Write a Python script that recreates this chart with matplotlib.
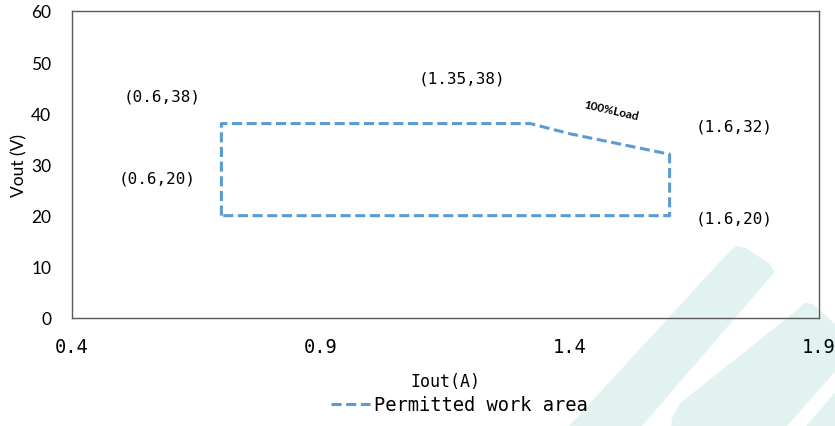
import matplotlib
matplotlib.use("Agg")
import matplotlib.pyplot as plt
from matplotlib.patches import Polygon

# ---- data ----
iout = [0.7, 0.7, 1.32, 1.4, 1.5, 1.6, 1.6, 0.7]
vout = [20, 38, 38, 36, 34, 32, 20, 20]
x_ticks = [0.4, 0.9, 1.4, 1.9]
x_tick_labels = ["0.4", "0.9", "1.4", "1.9"]
y_ticks = [0, 10, 20, 30, 40, 50, 60]
point_labels = ["(0.6,38)", "(0.6,20)", "(1.35,38)", "(1.6,32)", "(1.6,20)"]
point_label_x = [0.581, 0.571, 1.184, 1.729, 1.729]
point_label_y = [43.4, 27.4, 46.9, 37.5, 19.5]
series_name = "Permitted work area"

W, H = 835, 427
fig = plt.figure(figsize=(W / 100, H / 100), dpi=100)
fig.patch.set_facecolor("white")

# watermark (decoration), pixel coordinates converted to figure fraction
wm_color = "#e2f2f1"
wm_shapes = [
    [(729, 256), (737, 249), (745, 251), (768, 266), (772, 273), (628, 440), (560, 440)],
    [(798, 313), (805, 306), (812, 307), (845, 337), (845, 358), (773, 440), (672, 440),
     (674, 420), (682, 405), (700, 391)],
    [(838, 393), (845, 386), (845, 440), (798, 440)],
]
for shp in wm_shapes:
    pts = [(x / W, (H - y) / H) for x, y in shp]
    fig.add_artist(Polygon(pts, closed=True, facecolor=wm_color, edgecolor=wm_color,
                           lw=3, joinstyle="round", transform=fig.transFigure, zorder=0))

ax = fig.add_axes([72 / W, (H - 319) / H, (819 - 72) / W, (319 - 12) / H])
ax.set_facecolor("none")
ax.set_zorder(1)

mono = "DejaVu Sans Mono"
ax.plot(iout, vout, color="#5B9BD5", lw=2.2, dashes=(3.3, 1.5), label=series_name)

ax.set_xlim(0.4, 1.9)
ax.set_ylim(0, 60)
ax.set_xticks(x_ticks)
ax.set_xticklabels(x_tick_labels, fontfamily=mono, fontsize=13.5)
ax.set_yticks(y_ticks)
ax.set_yticklabels([str(v) for v in y_ticks], fontfamily="Lato", fontsize=12.5)
ax.tick_params(axis="x", length=0, pad=14)
ax.tick_params(axis="y", length=0, pad=15)
for s in ax.spines.values():
    s.set_color("#595959")
    s.set_linewidth(1.0)

ax.set_xlabel("Iout(A)", fontfamily=mono, fontsize=12, va="center")
ax.xaxis.set_label_coords(0.5, (319 - 382) / 307)
ax.set_ylabel("Vout (V)", fontfamily="Lato", fontsize=12.5, va="center")
ax.yaxis.set_label_coords((19 - 72) / 747, 0.5)

for t, x, y in zip(point_labels, point_label_x, point_label_y):
    ax.text(x, y, t, fontfamily=mono, fontsize=11.5, ha="center", va="center")

ax.text(1.482, 40.6, "100%Load", fontfamily="Lato", fontweight="bold", fontsize=8.5,
        rotation=-13, ha="center", va="center", rotation_mode="anchor")

leg = fig.legend(loc="center", bbox_to_anchor=(459 / W, (H - 406) / H), frameon=False,
                 prop={"family": mono, "size": 13.5}, handlelength=2.1, handletextpad=0.2)

fig.savefig("out.png", dpi=100, facecolor="white")
